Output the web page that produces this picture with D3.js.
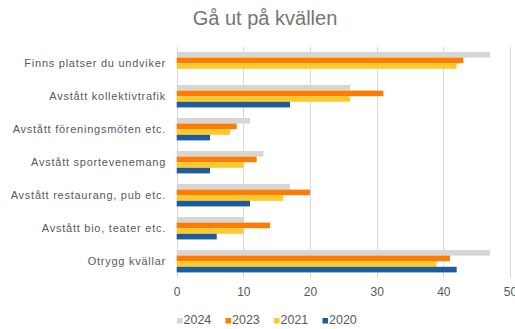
<!DOCTYPE html>
<html>
<head>
<meta charset="utf-8">
<script src="https://cdn.jsdelivr.net/npm/d3@7"></script>
<style>
  html, body { margin: 0; padding: 0; background: #fff; }
  svg { display: block; font-family: "Liberation Sans", Arial, sans-serif; }
</style>
</head>
<body>
<svg id="chart" width="515" height="329"></svg>
<script>
// Categories, top to bottom
const categories = [
  "Finns platser du undviker",
  "Avstått kollektivtrafik",
  "Avstått föreningsmöten etc.",
  "Avstått sportevenemang",
  "Avstått restaurang, pub etc.",
  "Avstått bio, teater etc.",
  "Otrygg kvällar"
];

// Survey years, drawn top to bottom inside each category
const years = ["2024", "2023", "2021", "2020"];

// Percentages per year (null = not asked that year)
const values2024 = [47, 26, 11, 13, 17, 10, 47];
const values2023 = [43, 31, 9, 12, 20, 14, 41];
const values2021 = [42, 26, 8, 10, 16, 10, 39];
const values2020 = [null, 17, 5, 5, 11, 6, 42];

const xTicks = [0, 10, 20, 30, 40, 50];
const colors = ["#d6d6d6", "#ff7c00", "#ffc92e", "#1c5c9c"];

const seriesValues = [values2024, values2023, values2021, values2020];
const rows = categories.map((c, i) => ({
  category: c,
  bars: years.map((y, k) => ({ year: y, value: seriesValues[k][i], color: colors[k] }))
}));

const svg = d3.select("#chart");
const plot = { left: 176.7, right: 510, top: 46.7, bottom: 277.7 };

const x = d3.scaleLinear().domain([0, 50]).range([plot.left, plot.right]);
const y = d3.scaleBand().domain(categories).range([plot.top, plot.bottom]).paddingInner(0.32).paddingOuter(0.16);
const ySub = d3.scaleBand().domain(years).range([0, y.bandwidth()]);

// Title
svg.append("text")
  .attr("x", 265).attr("y", 25)
  .attr("text-anchor", "middle")
  .attr("font-size", 20)
  .attr("fill", "#757575")
  .text("Gå ut på kvällen");

// Vertical gridlines
svg.append("g")
  .selectAll("line")
  .data(xTicks)
  .join("line")
  .attr("x1", d => Math.round(x(d)) + 0.5)
  .attr("x2", d => Math.round(x(d)) + 0.5)
  .attr("y1", plot.top)
  .attr("y2", plot.bottom)
  .attr("stroke", "#d9d9d9")
  .attr("stroke-width", 1);

// Bars
const groups = svg.append("g")
  .selectAll("g")
  .data(rows)
  .join("g")
  .attr("transform", d => `translate(0,${y(d.category)})`);

groups.selectAll("rect")
  .data(d => d.bars.filter(b => b.value != null))
  .join("rect")
  .attr("x", x(0))
  .attr("y", b => ySub(b.year))
  .attr("width", b => x(b.value) - x(0))
  .attr("height", ySub.bandwidth())
  .attr("fill", b => b.color);

// Category labels
const yAxis = d3.axisLeft(y).tickSize(0).tickPadding(10.7);
svg.append("g")
  .attr("transform", `translate(${plot.left},0)`)
  .call(yAxis)
  .call(g => g.select(".domain").remove())
  .call(g => g.selectAll("text")
    .attr("font-size", 11)
    .attr("letter-spacing", 0.75)
    .attr("font-family", "Liberation Sans, Arial, sans-serif")
    .attr("fill", "#595959"));

// Value axis
const xAxis = d3.axisBottom(x).tickValues(xTicks).tickSize(0).tickPadding(10);
svg.append("g")
  .attr("transform", `translate(0,${plot.bottom})`)
  .call(xAxis)
  .call(g => g.select(".domain").remove())
  .call(g => g.selectAll("text")
    .attr("font-size", 12)
    .attr("font-family", "Liberation Sans, Arial, sans-serif")
    .attr("fill", "#595959"));

// Legend
const legend = svg.append("g").attr("transform", "translate(177,318)");
const item = legend.selectAll("g")
  .data(years)
  .join("g")
  .attr("transform", (d, i) => `translate(${i * 48.5},0)`);
item.append("rect")
  .attr("x", 0).attr("y", 0)
  .attr("width", 5.5).attr("height", 5.5)
  .attr("fill", (d, i) => colors[i]);
item.append("text")
  .attr("x", 6.5).attr("y", 6)
  .attr("font-size", 12.5)
  .attr("fill", "#595959")
  .text(d => d);
</script>
</body>
</html>
